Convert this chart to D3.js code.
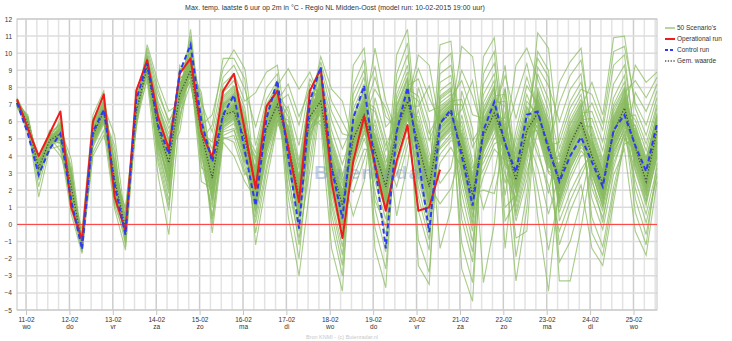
<!DOCTYPE html>
<html><head><meta charset="utf-8">
<script src="https://cdn.jsdelivr.net/npm/d3@7"></script>
<style>
html,body{margin:0;padding:0;background:#fff;}
svg{display:block;}
</style></head><body>
<svg id="c" width="732" height="341"></svg>
<script>
const title = "Max. temp. laatste 6 uur op 2m in °C - Regio NL Midden-Oost (model run: 10-02-2015 19:00 uur)";
const credit = "Bron KNMI - (c) Buienradar.nl";
const watermark = "Buienradar";
const dayLabels = ["11-02","12-02","13-02","14-02","15-02","16-02","17-02","18-02","19-02","20-02","21-02","22-02","23-02","24-02","25-02"];
const weekdayLabels = ["wo","do","vr","za","zo","ma","di","wo","do","vr","za","zo","ma","di","wo"];
const yTicks = [-5,-4,-3,-2,-1,0,1,2,3,4,5,6,7,8,9,10,11,12];
const legendLabels = ["50 Scenario's","Operational run","Control run","Gem. waarde"];

// 6-hourly values, first at 10-02 19:00
const operational = [7.3,5.6,4.0,5.3,6.6,1.0,-0.9,6.0,7.6,1.6,-0.4,7.8,9.6,6.3,4.4,8.8,9.7,5.4,3.9,7.8,8.8,5.5,2.1,6.9,7.8,4.5,1.3,7.8,9.1,2.5,-0.8,3.7,6.3,3.5,0.8,3.7,5.8,0.8,1.0,3.2];
const control = [7.1,5.3,2.9,4.4,5.3,1.4,-1.45,5.4,6.7,2.3,-0.6,7.3,9.4,5.8,4.1,8.9,10.5,6.0,3.65,6.4,7.55,4.3,1.1,6.2,8.4,4.0,-0.25,7.2,9.2,3.3,0.35,6.2,8.1,3.5,-1.4,5.4,8.0,3.85,-0.45,5.9,6.7,4.0,1.1,5.5,7.15,4.7,3.05,6.4,6.6,4.4,2.5,4.0,5.1,3.65,2.2,5.5,6.4,4.6,3.1,5.9];
const meanValues = [7.1,5.9,3.3,4.9,5.3,2.2,-1.1,5.2,6.6,2.6,-0.2,6.6,9.2,5.6,3.6,7.6,9.0,5.3,2.7,6.4,6.6,5.0,2.3,5.6,7.0,4.7,1.6,6.3,7.2,3.4,1.1,5.0,6.4,4.3,2.2,5.5,7.2,4.7,2.2,5.9,6.5,4.4,1.7,5.2,6.5,4.8,2.6,5.5,6.5,4.6,2.6,4.7,6.0,4.0,2.4,5.4,6.8,4.5,2.5,5.5];

// 50 scenario values per time step (rows = time steps, columns = scenarios)
const scenarioSteps = [
[7.1,7.2,7.0,7.3,7.1,6.9,7.2,7.0,7.1,7.3,7.2,7.0,6.9,7.1,7.2,7.1,7.0,7.3,7.2,7.1,6.8,7.0,7.2,7.1,7.3,7.0,7.1,7.2,6.9,7.1,7.0,7.2,7.1,7.3,7.0,7.1,7.2,6.9,7.1,7.0,7.2,7.4,7.1,7.0,7.2,7.1,6.9,7.1,7.2,7.0],
[5.9,6.1,5.7,6.0,5.8,6.2,5.6,5.9,6.0,5.8,6.3,5.7,5.9,6.1,5.5,6.0,5.8,5.9,6.2,5.7,6.0,5.9,5.6,6.1,5.8,6.4,5.9,5.7,6.0,5.8,5.3,6.1,5.9,6.0,5.7,5.8,6.2,5.9,5.6,6.0,5.8,6.1,5.9,5.7,6.0,5.5,6.2,5.8,5.9,6.0],
[3.3,3.5,3.1,3.6,2.9,3.4,3.2,3.7,3.0,3.3,3.5,2.8,3.4,3.6,3.1,3.3,1.6,3.5,3.2,3.8,3.0,3.4,3.3,2.6,3.6,3.1,3.4,3.2,3.7,2.9,3.5,3.3,3.0,3.4,2.2,3.6,3.2,3.1,3.5,3.3,3.8,2.9,3.4,3.2,3.0,3.6,3.3,2.7,3.5,3.9],
[4.9,5.1,4.7,5.0,4.8,5.2,4.6,4.9,5.0,4.8,5.3,4.7,4.9,5.1,4.5,5.0,4.4,4.9,5.2,4.7,5.0,4.9,4.6,5.1,4.8,5.4,4.9,4.7,5.0,4.8,4.3,5.1,4.9,5.0,4.7,4.8,5.2,4.9,4.6,5.0,4.8,5.1,5.5,4.7,5.0,4.5,5.2,4.8,4.9,5.0],
[5.3,5.6,5.0,5.4,5.8,5.1,5.5,4.9,5.3,5.7,5.2,4.8,5.4,6.0,5.1,5.3,4.6,5.5,5.9,5.2,5.0,5.4,5.6,4.3,5.3,5.8,5.1,5.5,4.9,5.2,6.3,5.4,5.0,5.6,5.3,4.0,5.5,5.2,5.7,5.1,5.4,4.7,5.3,5.6,5.0,5.9,5.2,5.4,4.8,5.5],
[2.2,2.6,1.8,2.4,3.0,1.5,2.1,2.8,1.9,2.3,3.4,1.3,2.5,2.0,1.7,2.7,0.6,2.2,2.9,1.6,2.4,2.0,3.8,1.4,2.6,2.1,1.9,2.8,2.3,1.1,2.5,2.0,3.2,1.8,2.2,2.7,1.5,2.4,2.9,0.9,2.1,2.6,1.7,2.3,3.1,2.0,1.6,2.5,2.2,1.9],
[-1.1,-1.3,-0.9,-1.2,-1.0,-1.4,-0.8,-1.1,-1.2,-1.0,-1.5,-0.7,-1.1,-1.3,-0.9,-1.2,-1.7,-1.0,-1.1,-1.4,-0.6,-1.2,-1.0,-1.3,-1.1,-0.3,-1.2,-0.9,-1.4,-1.0,-1.1,-1.6,-1.2,-0.8,-1.0,-1.3,-1.1,-0.9,-1.2,-1.5,-1.0,-1.1,-0.8,-1.3,-1.2,-1.0,-1.4,-1.1,-0.9,-1.2],
[5.2,5.5,4.9,5.3,5.7,5.0,5.4,4.8,5.2,5.6,5.1,4.7,5.3,5.9,5.0,5.2,4.2,5.4,5.8,5.1,4.9,5.3,5.5,4.5,5.2,6.4,5.0,5.4,4.8,5.1,6.1,5.3,4.9,5.5,5.2,4.0,5.4,5.1,5.6,5.0,5.3,4.6,5.2,5.5,4.9,5.8,5.1,5.3,4.7,5.4],
[6.6,6.9,6.3,6.7,7.1,6.4,6.8,6.2,6.6,7.0,6.5,6.1,6.7,7.3,6.4,6.6,5.5,6.8,7.2,6.5,6.3,6.7,6.9,5.9,6.6,7.8,6.4,6.8,6.2,6.5,7.5,6.7,6.3,6.9,6.6,5.2,6.8,6.5,7.0,6.4,6.7,6.0,6.6,6.9,6.3,7.2,6.5,6.7,6.1,6.8],
[2.6,3.0,2.2,2.8,3.4,1.9,2.5,3.2,2.1,2.7,4.2,1.6,2.9,2.4,2.0,3.1,0.9,2.6,3.5,1.8,2.8,2.3,5.2,1.5,3.0,2.5,2.2,3.3,2.7,1.2,2.9,2.4,3.8,2.1,2.6,3.2,1.8,2.8,3.6,1.1,2.5,3.0,2.0,2.7,4.6,2.3,1.9,2.9,2.6,2.2],
[-0.2,0.1,-0.4,0.0,-0.6,0.3,-0.3,-0.1,0.2,-0.5,-0.2,0.4,-0.8,-0.1,0.0,-0.3,-1.5,0.1,-0.4,0.6,-0.2,-0.6,0.2,-1.1,-0.1,1.0,-0.3,0.0,-0.5,0.3,-0.2,-0.9,0.1,-0.4,-0.1,0.8,-0.3,-0.2,0.2,-0.7,0.0,-0.4,0.4,-0.1,-1.3,0.1,-0.3,-0.2,0.5,-0.5],
[6.4,6.8,7.0,6.2,6.6,6.9,6.3,7.2,6.5,6.1,6.7,6.6,7.4,6.0,6.8,6.5,6.3,7.1,6.6,5.6,6.9,6.4,6.7,7.0,6.2,6.5,7.9,6.6,6.3,6.8,6.0,7.3,6.5,6.7,6.4,6.9,5.8,6.6,7.1,6.3,6.8,6.5,6.2,7.0,6.6,6.4,7.6,6.7,6.1,6.5],
[9.3,9.5,9.1,9.6,8.9,9.4,9.2,9.7,9.0,9.3,10.1,8.8,9.4,9.6,9.1,9.3,8.4,9.5,9.2,9.8,9.0,9.4,10.5,8.7,9.6,9.1,9.4,9.2,9.7,8.9,9.5,9.3,9.9,9.1,9.4,9.6,8.6,9.3,9.8,9.0,9.2,9.5,9.1,9.4,10.3,9.3,8.9,9.6,9.2,9.0],
[5.6,6.2,4.9,5.8,6.6,5.1,5.4,6.9,4.6,5.9,7.6,4.2,6.0,5.3,5.7,6.4,2.9,5.5,6.8,4.8,6.1,5.2,8.3,4.4,5.9,5.0,5.6,6.3,5.8,3.6,6.0,5.4,7.2,4.9,5.7,6.5,4.5,5.6,7.0,3.9,5.3,6.2,5.0,5.8,7.9,5.5,4.7,6.1,5.6,5.2],
[3.6,4.3,2.7,3.9,4.8,2.2,3.4,5.3,2.9,3.7,6.1,1.4,4.1,3.2,3.5,4.5,-0.6,3.8,5.0,2.5,4.0,3.1,6.6,1.8,3.9,3.3,3.0,4.6,3.7,0.8,4.2,3.4,5.6,2.6,3.6,4.4,2.0,3.8,4.9,1.1,3.5,4.1,2.8,3.9,5.9,3.3,2.4,4.3,3.6,3.1],
[7.8,7.4,8.3,7.1,7.6,8.6,7.0,7.9,7.5,8.1,6.9,7.7,9.0,7.3,8.0,7.6,6.4,8.2,7.2,7.8,8.4,7.5,7.1,9.3,7.7,6.7,7.9,7.4,8.0,7.6,5.4,8.5,7.3,7.8,7.0,8.1,7.6,6.0,8.8,7.2,7.9,7.4,6.8,8.2,7.7,9.1,7.5,6.2,8.0,7.6],
[9.2,9.6,8.9,9.4,9.9,8.7,9.1,10.2,8.8,9.3,10.8,8.4,9.5,9.0,9.2,9.7,8.2,9.3,10.0,8.6,9.5,9.0,11.4,8.5,9.6,9.1,8.9,9.8,9.3,8.3,9.4,9.1,10.5,8.8,9.2,9.7,8.6,9.4,10.1,8.4,9.0,9.6,8.8,9.5,11.0,9.2,8.7,9.7,9.3,9.0],
[4.8,5.6,6.1,3.9,5.2,5.5,7.7,4.4,5.0,6.4,5.3,4.6,5.8,2.5,5.4,6.0,4.9,5.7,5.1,6.6,4.2,5.3,5.9,4.7,7.1,5.5,3.3,5.2,6.2,4.5,5.6,5.0,6.9,5.4,4.1,5.8,5.3,3.6,6.3,4.9,5.5,7.4,4.6,5.1,6.0,5.7,4.3,5.2,5.9,4.8],
[2.2,3.4,2.9,1.5,4.0,2.6,3.1,0.3,2.4,3.7,1.9,2.8,6.4,2.1,3.3,1.2,2.7,4.4,2.5,1.7,3.0,-0.5,2.3,3.6,5.4,2.0,2.9,1.4,3.2,2.6,0.0,3.5,2.2,4.8,1.8,2.7,3.1,1.0,2.5,5.8,2.4,3.0,1.6,2.8,3.9,2.3,0.5,3.3,2.6,2.1],
[6.1,7.0,6.6,5.7,7.4,6.3,6.8,5.0,6.2,7.1,5.9,6.5,9.1,6.0,6.9,5.5,6.4,7.7,6.3,5.8,6.7,4.8,6.2,7.2,8.6,6.0,6.5,5.6,6.9,6.4,5.1,7.3,6.1,8.2,5.9,6.6,7.0,5.4,6.3,9.7,6.2,6.8,5.7,6.5,7.5,6.1,5.2,7.0,6.4,6.0],
[6.6,7.6,7.1,6.2,8.0,6.8,7.3,5.2,6.7,7.7,6.4,7.0,10.2,6.5,7.4,5.9,6.9,8.4,6.8,6.3,7.2,4.0,6.7,7.8,9.3,6.4,7.0,6.1,7.5,6.9,4.8,7.9,6.6,8.8,6.3,7.1,7.6,5.6,6.8,9.7,6.7,7.3,6.2,7.0,8.1,6.6,5.5,7.5,6.9,6.5],
[4.7,5.8,5.2,4.0,6.3,4.9,5.5,3.1,4.6,6.0,4.3,5.1,9.1,4.5,5.6,3.7,5.0,6.8,4.8,4.2,5.3,2.5,4.7,5.9,7.9,4.4,5.2,3.9,5.7,5.0,2.9,6.1,4.6,7.2,4.1,5.4,5.8,3.4,4.9,8.5,4.7,5.5,4.0,5.1,6.5,4.5,3.6,5.7,5.0,4.4],
[2.1,1.3,3.0,2.6,0.4,2.2,3.7,1.8,2.5,-1.2,2.9,1.6,4.6,2.3,1.0,3.3,2.0,2.7,0.7,2.4,3.9,1.5,2.8,2.2,5.7,1.9,3.1,0.1,2.5,2.0,3.5,1.2,2.6,7.7,1.7,2.3,3.2,0.8,2.9,2.1,1.4,4.2,2.4,-0.5,2.7,1.9,3.4,2.2,1.1,2.6],
[5.3,4.8,6.2,5.7,4.2,5.5,6.6,5.0,5.8,2.5,6.0,4.9,7.3,5.6,4.5,6.4,5.2,5.9,3.9,5.4,6.8,4.7,6.1,5.5,8.0,5.1,6.3,3.4,5.7,5.3,6.5,4.6,5.8,8.9,5.0,5.6,6.2,4.3,6.0,5.4,4.8,7.0,5.7,3.1,5.9,5.2,6.7,5.5,4.4,5.8],
[7.0,6.6,7.6,7.2,6.3,7.1,7.9,6.8,7.3,5.8,7.5,6.7,8.4,7.1,6.4,7.7,6.9,7.4,6.1,7.0,8.1,6.5,7.5,7.2,8.8,6.9,7.8,6.0,7.3,7.0,7.9,6.6,7.4,9.3,6.8,7.1,7.6,6.2,7.5,7.0,6.7,8.2,7.3,6.0,7.4,6.9,8.0,7.2,6.5,7.3],
[4.9,3.6,5.4,4.2,6.1,4.6,2.8,5.0,4.4,5.8,3.9,4.7,0.5,5.2,4.1,6.6,4.8,3.3,5.5,4.5,9.1,4.0,5.1,4.7,3.0,5.7,4.3,6.9,4.9,3.7,5.3,4.6,2.2,5.0,4.4,7.6,4.8,3.5,5.6,4.2,4.9,1.6,5.3,4.5,6.3,4.0,5.1,8.2,4.6,3.8],
[1.8,0.6,2.4,1.2,3.2,1.5,-0.4,2.0,1.3,2.8,0.9,1.7,-3.0,2.2,1.0,3.7,1.6,0.3,2.5,1.4,7.9,1.1,2.1,1.7,-1.2,2.7,1.2,4.6,1.9,0.7,2.3,1.5,-0.8,2.0,1.3,5.8,1.8,0.4,2.6,1.0,1.9,-2.0,2.2,1.4,3.4,0.8,2.0,6.3,1.6,0.5],
[6.5,5.4,6.9,6.0,7.3,6.3,4.6,6.7,6.1,7.1,5.7,6.4,2.1,6.8,5.9,7.7,6.5,5.2,7.0,6.2,8.9,5.8,6.6,6.3,3.9,7.2,6.0,8.2,6.6,5.5,6.9,6.2,3.2,6.7,6.1,8.5,6.4,5.1,7.0,5.9,6.5,4.8,6.8,6.2,7.5,5.6,6.7,7.9,6.3,5.3],
[7.4,8.0,7.1,7.7,6.9,8.3,7.5,7.2,8.7,7.6,6.5,7.9,7.3,9.8,7.0,7.6,8.1,6.7,7.5,7.8,7.2,8.5,7.4,5.8,7.7,8.0,7.1,7.6,9.2,6.8,7.3,7.9,7.5,6.3,8.2,7.4,7.7,7.0,8.8,7.5,6.6,7.8,7.2,8.4,7.6,6.1,7.9,7.3,9.5,7.6],
[3.1,4.2,2.6,3.6,2.3,4.7,3.3,2.8,5.5,3.5,1.4,3.9,2.9,7.9,2.4,3.4,4.4,1.8,3.2,3.8,2.7,5.0,3.0,-1.4,3.6,4.1,2.5,3.4,6.6,2.0,3.1,3.7,3.3,0.6,4.5,3.0,3.9,2.2,6.1,3.5,0.0,3.8,2.7,4.8,3.4,1.1,3.6,2.9,7.2,3.2],
[0.9,2.0,0.3,1.4,-0.2,2.6,1.1,0.5,3.5,1.2,-1.3,1.7,0.6,7.2,0.1,1.0,2.3,-0.8,0.8,1.6,0.4,3.0,0.7,-3.9,1.3,1.9,0.2,1.1,5.3,-0.4,0.9,1.5,1.0,-2.4,2.5,0.8,1.8,-0.1,4.4,1.2,-3.0,1.6,0.4,2.8,1.0,-1.8,1.4,0.6,6.0,0.9],
[5.2,4.3,5.8,4.9,6.4,3.7,5.1,4.6,5.5,9.3,4.1,5.3,6.0,4.8,3.2,5.6,5.0,4.4,7.1,5.2,4.7,0.5,5.4,6.2,4.9,3.9,5.7,4.5,5.1,8.1,4.2,5.5,4.8,6.7,1.9,5.3,5.0,4.6,5.9,3.5,5.2,7.6,4.4,5.6,2.7,5.1,4.9,6.3,4.7,5.4],
[6.6,5.9,7.2,6.3,7.8,5.4,6.7,6.1,7.0,10.3,5.7,6.8,7.5,6.4,5.0,7.1,6.5,5.8,8.6,6.7,6.2,2.5,6.9,7.7,6.4,5.5,7.3,6.0,6.6,9.6,5.8,7.0,6.3,8.2,3.8,6.8,6.5,6.1,7.4,5.3,6.7,9.0,6.0,7.2,4.4,6.6,6.4,7.9,6.2,6.9],
[4.0,5.2,3.5,4.6,2.8,5.8,4.2,3.7,6.6,4.4,1.9,4.9,3.9,10.3,3.3,4.5,5.5,2.5,4.1,5.0,3.6,7.4,4.3,-1.4,4.7,5.3,3.4,4.4,8.6,2.9,4.0,4.8,4.2,0.9,6.1,3.8,5.1,3.1,9.2,4.6,-0.2,5.0,3.7,6.8,4.3,1.4,4.8,3.6,7.9,4.1],
[1.9,3.0,1.4,2.5,0.8,3.4,2.1,1.6,4.3,2.3,-0.6,2.8,1.7,7.2,1.2,2.4,3.6,0.3,2.0,2.9,1.5,5.1,2.2,-3.7,2.6,3.2,1.3,2.3,6.3,0.9,1.9,2.7,2.1,-1.6,3.9,1.8,3.1,1.0,5.7,2.4,-2.6,2.9,1.6,4.6,2.2,-0.1,2.6,1.4,6.8,2.0],
[5.8,4.6,6.3,5.2,7.0,4.1,5.6,5.0,6.0,9.9,4.4,5.7,6.6,5.3,3.4,6.1,5.5,4.8,7.6,5.9,5.1,0.5,5.7,6.8,5.4,4.2,6.2,4.9,5.6,8.8,4.5,6.0,5.2,7.3,2.2,5.8,5.5,5.0,6.4,3.8,5.7,8.2,4.7,6.1,2.9,5.6,5.3,6.9,5.0,5.9],
[7.4,6.6,7.9,7.0,8.6,6.2,7.3,6.8,7.7,11.4,6.4,7.5,8.2,7.1,5.6,7.8,7.2,6.5,9.3,7.4,6.9,3.5,7.6,8.4,7.1,6.1,8.0,6.7,7.3,10.6,6.3,7.7,7.0,8.9,4.6,7.5,7.2,6.8,8.1,5.8,7.4,9.9,6.6,7.9,5.1,7.3,7.0,8.5,6.9,7.6],
[4.3,5.6,3.8,4.9,3.0,6.3,4.5,4.0,7.2,4.7,2.2,5.3,4.1,9.9,3.5,4.8,6.0,2.7,4.4,5.4,3.9,8.0,4.6,-2.4,5.0,5.8,3.6,4.8,9.1,3.2,4.3,5.1,4.5,0.8,6.7,4.2,5.5,3.3,8.5,4.9,-0.9,5.4,4.0,7.5,4.7,1.6,5.2,3.9,6.9,4.4],
[2.0,3.1,1.3,2.5,0.5,3.8,2.2,1.6,4.9,2.4,-0.5,2.9,1.7,9.3,1.0,2.5,3.5,0.1,2.1,3.0,1.4,6.0,2.3,-3.5,2.7,3.3,1.2,2.4,7.4,0.4,2.0,2.8,2.2,-1.5,4.2,1.8,3.2,0.8,6.6,2.6,-2.8,3.0,1.5,5.3,2.3,-0.9,2.7,1.3,8.1,2.1],
[6.2,5.0,6.8,5.6,7.5,4.4,6.0,5.3,6.5,10.5,4.8,6.1,7.1,5.7,3.6,6.6,5.9,5.1,8.3,6.3,5.5,-1.4,6.1,7.3,5.8,4.5,6.7,5.2,6.0,9.4,4.9,6.4,5.6,7.8,2.4,6.2,5.9,5.4,6.9,4.1,6.1,8.8,5.0,6.6,1.2,6.0,5.7,7.4,5.3,6.3],
[6.8,5.7,7.3,6.2,8.0,5.1,6.6,6.0,7.0,10.7,5.5,6.7,7.6,6.3,4.5,7.1,6.5,5.8,8.7,6.9,6.1,0.9,6.7,7.8,6.4,5.3,7.2,5.9,6.6,10.0,5.6,7.0,6.2,8.3,3.3,6.8,6.5,6.0,7.4,4.9,6.7,9.3,5.7,7.2,2.1,6.6,6.3,7.9,6.0,6.9],
[4.1,5.3,3.6,4.6,2.9,6.0,4.3,3.8,7.0,4.5,1.8,5.0,3.9,10.4,3.3,4.6,5.7,2.4,4.2,5.1,3.7,7.8,4.4,-2.6,4.8,5.5,3.4,4.5,9.0,3.0,4.1,4.9,4.3,0.3,6.4,4.0,5.2,3.1,8.4,4.7,-1.1,5.1,3.8,7.3,4.4,1.0,4.9,3.6,6.7,4.2],
[1.5,2.6,0.9,2.0,0.1,3.3,1.7,1.2,4.5,1.9,-1.0,2.4,1.3,9.8,0.6,2.0,3.0,-0.4,1.6,2.5,1.0,5.6,1.8,-4.5,2.2,2.8,0.8,1.9,7.5,-0.1,1.5,2.3,1.7,-2.2,3.7,1.4,2.7,0.4,6.4,2.1,-3.4,2.5,1.1,4.9,1.8,-1.6,2.2,0.9,8.4,1.6],
[5.5,4.4,6.1,5.0,6.8,3.9,5.3,4.7,5.8,9.8,4.2,5.4,6.4,5.1,2.8,5.9,5.2,4.5,7.6,5.6,4.9,-3.4,5.4,6.6,5.2,3.6,6.0,4.6,5.3,8.8,4.3,5.7,5.0,7.1,0.9,5.5,5.2,4.8,6.2,3.2,5.4,8.2,4.4,5.9,2.0,5.3,5.1,6.5,4.7,5.6],
[6.9,5.9,7.4,6.3,8.1,5.3,6.7,6.1,7.1,10.9,5.6,6.8,7.7,6.4,4.4,7.2,6.6,5.9,8.8,7.0,6.2,0.0,6.8,7.9,6.5,5.0,7.3,6.0,6.7,10.1,5.7,7.1,6.3,8.4,2.9,6.9,6.6,6.1,7.5,4.7,6.8,9.4,5.8,7.3,1.8,6.7,6.4,8.0,6.1,7.0],
[4.5,5.7,4.0,5.0,3.3,6.3,4.7,4.2,7.2,4.9,2.4,5.4,4.3,9.3,3.7,5.0,6.0,2.9,4.6,5.5,4.1,8.0,4.8,-1.4,5.2,5.9,3.8,4.9,8.7,3.4,4.5,5.3,4.7,1.0,6.6,4.4,5.6,3.5,7.6,5.1,0.2,5.5,4.2,6.9,4.8,1.7,5.3,4.0,7.9,4.6],
[2.9,1.8,3.6,2.4,-3.3,2.7,4.1,1.3,3.0,2.2,5.0,2.6,0.7,3.3,2.0,9.3,2.8,1.5,3.8,2.5,-0.8,3.1,2.3,4.6,1.0,2.9,3.5,2.1,6.2,2.6,0.2,3.2,2.4,1.7,4.3,2.8,-1.9,3.0,2.2,7.4,1.4,2.7,3.4,0.5,2.5,5.5,3.1,1.9,2.6,3.9],
[5.7,4.6,6.3,5.2,0.9,5.5,6.8,4.2,5.9,5.0,7.6,5.4,3.5,6.1,4.9,10.3,5.6,4.4,6.5,5.3,-0.4,5.8,5.1,7.2,3.9,5.6,6.2,4.8,8.6,5.4,2.6,6.0,5.2,4.5,6.9,5.7,1.8,5.9,5.0,9.4,4.3,5.5,6.1,3.1,5.3,8.1,5.8,4.7,5.4,6.6],
[6.4,7.3,5.7,6.9,8.0,6.2,5.3,7.6,6.6,11.2,5.9,6.8,7.2,0.5,6.5,8.5,6.0,7.0,6.3,5.5,7.8,6.7,3.3,6.4,9.2,6.1,7.1,5.8,6.6,10.1,6.9,4.5,6.3,7.4,5.6,6.8,8.8,6.2,2.1,6.5,7.7,6.0,9.7,5.4,6.7,7.0,4.1,6.4,7.3,6.1],
[4.3,5.4,3.6,4.9,6.2,4.1,3.0,5.7,4.6,10.3,3.8,4.7,5.2,-3.9,4.4,6.7,3.9,5.0,4.2,3.3,5.9,4.8,0.6,4.5,8.1,4.0,5.1,3.5,4.7,9.0,5.3,1.8,4.2,5.6,3.4,4.8,7.3,4.1,-1.5,4.5,5.8,3.7,8.6,3.1,4.6,5.0,2.3,4.3,5.5,4.0],
[2.5,3.3,1.7,2.9,1.2,3.8,2.3,-3.3,2.8,4.4,2.0,3.1,1.5,2.6,8.3,2.2,3.5,0.7,2.7,4.1,1.9,-1.2,3.0,2.4,6.0,1.6,2.9,3.6,2.1,0.2,2.7,5.2,1.4,3.2,2.5,-2.2,3.9,2.3,1.8,7.1,2.6,3.4,1.0,2.8,4.8,2.0,-0.4,3.1,2.4,1.3],
[4.4,5.3,3.7,4.9,3.2,5.8,4.3,-3.3,4.8,6.4,4.0,5.1,3.5,4.6,9.5,4.2,5.5,2.6,4.7,6.1,3.9,0.8,5.0,4.4,7.9,3.6,4.9,5.6,4.1,1.9,4.7,7.2,3.4,5.2,4.5,-1.0,5.9,4.3,3.8,8.7,4.6,5.4,2.9,4.8,6.8,4.0,1.4,5.1,4.4,3.3],
[5.6,6.6,5.0,6.2,4.6,7.0,5.7,-0.2,6.1,7.6,5.3,6.4,4.8,5.9,10.3,5.5,6.8,4.0,6.0,7.3,5.2,2.3,6.3,5.8,8.8,4.9,6.1,6.9,5.4,3.2,6.0,8.3,4.7,6.5,5.8,1.4,7.1,5.6,5.1,9.6,5.9,6.7,4.3,6.2,7.9,5.3,2.8,6.4,5.7,4.5],
[4.2,3.4,4.8,3.9,5.3,2.9,4.5,3.7,6.2,4.0,1.5,4.6,3.2,4.1,5.0,3.6,8.3,4.3,2.5,4.9,3.8,-1.4,4.4,5.7,3.5,4.0,7.1,3.0,4.7,4.2,0.4,5.1,3.9,6.6,3.3,4.5,2.1,4.8,3.7,5.5,4.1,-0.5,3.6,4.6,7.6,3.1,4.3,2.7,4.9,3.8],
[2.4,1.6,3.0,2.0,3.4,1.2,2.6,1.8,4.3,2.2,-0.3,2.8,1.4,2.3,3.1,1.7,6.4,2.5,0.8,3.0,1.9,-2.4,2.6,3.8,1.5,2.1,5.5,1.1,2.7,2.4,-1.3,3.2,2.0,4.8,1.3,2.5,0.4,2.9,1.8,3.6,2.2,-1.8,1.6,2.7,5.9,1.0,2.4,0.1,3.1,1.9],
[5.6,4.6,6.1,5.0,6.6,4.2,5.8,4.8,7.4,5.3,2.9,5.9,4.4,5.5,6.3,4.9,10.9,5.7,3.6,6.2,5.1,1.3,5.6,7.0,4.7,5.2,9.3,4.0,5.8,5.4,2.2,6.4,5.0,8.2,4.5,5.7,3.3,6.0,4.8,6.8,5.3,1.8,4.6,5.9,10.1,4.3,5.5,3.9,6.1,5.0],
[6.9,6.0,7.4,6.5,7.9,5.6,7.1,6.3,8.7,6.8,4.4,7.3,5.9,6.6,7.6,6.2,11.0,7.0,5.2,7.5,6.4,4.9,6.8,8.3,6.1,6.7,9.9,5.7,7.2,6.9,5.0,7.7,6.4,9.3,5.8,7.0,5.4,7.4,6.3,8.0,6.6,4.7,6.0,7.2,10.4,5.5,6.9,5.3,7.8,6.5],
[4.7,3.8,5.2,9.3,4.3,5.6,3.5,4.9,4.1,6.1,-0.4,4.6,5.4,3.2,4.8,4.0,6.8,4.4,2.6,5.0,4.2,7.7,3.9,4.5,5.3,1.5,4.7,5.8,3.6,4.9,4.3,8.4,3.4,5.1,4.6,2.1,5.5,4.0,6.4,4.8,3.7,5.0,0.7,4.4,7.1,4.2,5.7,3.1,4.5,4.9],
[2.8,1.9,3.3,8.3,2.4,3.6,1.6,3.0,2.2,4.3,-1.8,2.7,3.5,1.3,2.9,2.1,5.2,2.5,0.6,3.1,2.3,6.6,2.0,2.6,3.4,-0.6,2.8,3.9,1.7,3.0,2.4,7.4,1.4,3.2,2.7,0.1,3.7,2.1,4.7,2.9,1.8,3.2,-1.2,2.5,5.8,2.2,3.8,1.1,2.6,3.0],
[5.5,4.5,6.0,8.9,5.1,6.3,4.2,5.7,4.8,6.8,2.5,5.4,6.1,3.9,5.6,4.7,7.4,5.2,3.3,5.8,5.0,8.2,4.6,5.3,6.2,3.0,5.5,6.5,4.3,5.7,5.1,8.6,4.0,5.9,5.4,2.8,6.4,4.9,7.0,5.6,4.4,5.8,3.6,5.2,7.8,4.8,6.3,4.1,5.3,5.7]
];

const FONT = "'Liberation Sans', Arial, sans-serif";
const svg = d3.select("#c").attr("font-family", FONT);
const t0 = Date.UTC(2015, 1, 10, 19);
const times = scenarioSteps.map((_, i) => new Date(t0 + i * 6 * 3600e3));

const x = d3.scaleUtc().domain([times[0], times[times.length - 1]]).range([17, 657]);
const y = d3.scaleLinear().domain([-5, 12]).range([310, 19]);

// grid
const grid = svg.append("g");
grid.selectAll("line.v").data(x.ticks(d3.utcHour.every(6))).join("line")
  .attr("x1", d => x(d)).attr("x2", d => x(d)).attr("y1", y(12)).attr("y2", y(-5))
  .attr("stroke", d => d.getUTCHours() === 0 ? "#cdcdcd" : "#e3e3e3").attr("stroke-width", 1.5);
grid.selectAll("line.h").data(yTicks).join("line")
  .attr("x1", 17).attr("x2", 657).attr("y1", d => y(d)).attr("y2", d => y(d))
  .attr("stroke", "#dcdcdc").attr("stroke-width", 1.5);
svg.append("rect").attr("x", 17).attr("y", y(12)).attr("width", 640).attr("height", y(-5) - y(12))
  .attr("fill", "none").attr("stroke", "#c4c4c4").attr("stroke-width", 1);

// axes
const xAxis = d3.axisBottom(x).tickValues(x.ticks(d3.utcDay.every(1))).tickSize(5).tickPadding(2)
  .tickFormat((d, i) => dayLabels[i]);
const gx = svg.append("g").attr("transform", `translate(0,${y(-5)})`).call(xAxis);
gx.select(".domain").remove();
gx.selectAll(".tick line").attr("stroke", "#c4c4c4");
gx.selectAll(".tick text").attr("font-size", 6.5).attr("fill", "#333").attr("font-family", FONT);
gx.selectAll(".tick").append("text").attr("y", 19).attr("text-anchor", "middle")
  .attr("font-size", 6.5).attr("fill", "#333").attr("font-family", FONT)
  .text((d, i) => weekdayLabels[i]);

const yAxis = d3.axisLeft(y).tickValues(yTicks).tickSize(0).tickPadding(5).tickFormat(d3.format("d"));
const gy = svg.append("g").attr("transform", "translate(17,0)").call(yAxis);
gy.select(".domain").remove();
gy.selectAll(".tick text").attr("font-size", 6.5).attr("fill", "#333").attr("font-family", FONT);

// title
svg.append("text").attr("x", 335).attr("y", 10).attr("text-anchor", "middle")
  .attr("font-size", 7).attr("fill", "#333").text(title);

const line = d3.line().defined(d => d != null).x(d => x(d[0])).y(d => y(d[1]));

// scenarios
const nMembers = d3.max(scenarioSteps, r => r.length);
const members = d3.range(nMembers).map(m => scenarioSteps.map((row, i) => row[m] == null ? null : [times[i], row[m]]));
svg.append("g").selectAll("path").data(members).join("path")
  .attr("d", line).attr("fill", "none").attr("stroke", "#88ba5e")
  .attr("stroke-opacity", 0.72).attr("stroke-width", 1.1);

// zero line
svg.append("line").attr("x1", 17).attr("x2", 657).attr("y1", y(0)).attr("y2", y(0))
  .attr("stroke", "#ff3b3b").attr("stroke-width", 1);

// watermark
svg.append("text").attr("x", 372).attr("y", 179).attr("text-anchor", "middle")
  .attr("font-size", 19).attr("font-weight", "bold").attr("letter-spacing", 1.5)
  .attr("fill", "#7b93cc").attr("fill-opacity", 0.45).text(watermark);

// mean, operational, control
svg.append("path").attr("d", line(meanValues.map((v, i) => [times[i], v])))
  .attr("fill", "none").attr("stroke", "#4a4a4a").attr("stroke-width", 1.3).attr("stroke-dasharray", "1.3,1.7");
svg.append("path").attr("d", line(operational.map((v, i) => [times[i], v])))
  .attr("fill", "none").attr("stroke", "#ee1c1c").attr("stroke-width", 2).attr("stroke-linejoin", "round");
svg.append("path").attr("d", line(control.map((v, i) => [times[i], v])))
  .attr("fill", "none").attr("stroke", "#2d3cf0").attr("stroke-width", 2).attr("stroke-dasharray", "5,3");

// legend
const legendStyles = [
  {stroke: "#9cc97c", dash: null, w: 1.5},
  {stroke: "#ee1c1c", dash: null, w: 2},
  {stroke: "#2d3cf0", dash: "3,2", w: 2},
  {stroke: "#555", dash: "1.3,1.5", w: 1.3}
];
const lg = svg.append("g").attr("transform", "translate(665,28)");
const items = lg.selectAll("g").data(legendLabels).join("g").attr("transform", (d, i) => `translate(0,${i * 11})`);
items.append("line").attr("x1", 0).attr("x2", 10).attr("y1", 0).attr("y2", 0)
  .attr("stroke", (d, i) => legendStyles[i].stroke).attr("stroke-width", (d, i) => legendStyles[i].w)
  .attr("stroke-dasharray", (d, i) => legendStyles[i].dash);
items.append("text").attr("x", 12).attr("y", 2.3).attr("font-size", 6.5).attr("fill", "#333").text(d => d);

// credit
svg.append("text").attr("x", 342).attr("y", 339).attr("text-anchor", "middle")
  .attr("font-size", 5.5).attr("fill", "#c8c8c8").text(credit);
</script>
</body></html>
